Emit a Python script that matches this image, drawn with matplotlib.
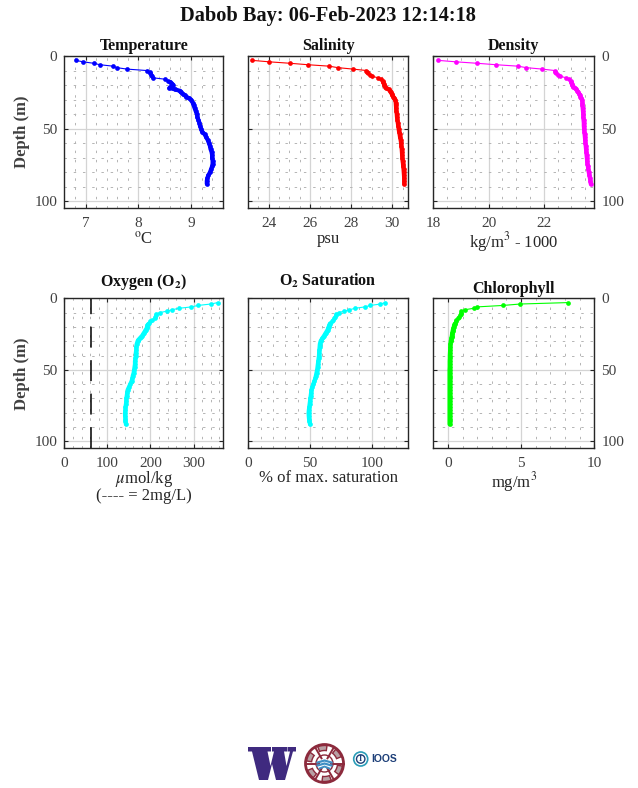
import numpy as np
import matplotlib
matplotlib.use('Agg')
import matplotlib.pyplot as plt
from matplotlib.patches import Circle, Wedge, Polygon

# depth grid of the profile (m)
depth = [3, 4, 5, 6, 7, 8, 9, 10, 11, 12, 13, 14, 15, 16, 17, 18, 19, 20, 21, 22, 23, 24, 25, 26, 27, 28, 29, 30,
         32, 34, 36, 38, 40, 42, 44, 46, 48, 50, 52, 54, 56, 58, 60, 62, 64, 66, 68, 70, 72, 74, 76, 78, 80, 82, 84, 86, 88]

temperature = [6.81, 6.95, 7.15, 7.27, 7.52, 7.59, 7.78, 8.16, 8.22, 8.23, 8.24, 8.25, 8.28, 8.51, 8.56, 8.61, 8.64, 8.65,
               8.62, 8.59, 8.70, 8.79, 8.81, 8.84, 8.88, 8.91, 8.96, 9.00,
               9.03, 9.05, 9.07, 9.09, 9.11, 9.12, 9.14, 9.16, 9.17, 9.19, 9.21, 9.26, 9.29, 9.32, 9.34, 9.36, 9.37, 9.39,
               9.40, 9.40, 9.41, 9.41, 9.40, 9.38, 9.36, 9.33, 9.31, 9.30, 9.30]
salinity = [23.19, 24.02, 25.03, 25.90, 26.94, 27.35, 28.09, 28.75, 28.76, 28.82, 28.92, 29.03, 29.32, 29.47, 29.53, 29.55,
            29.59, 29.62, 29.65, 29.72, 29.82, 29.89, 29.93, 29.97, 30.01, 30.05, 30.10, 30.15,
            30.17, 30.18, 30.19, 30.20, 30.22, 30.23, 30.25, 30.27, 30.29, 30.31, 30.33, 30.36, 30.38, 30.41, 30.43, 30.44,
            30.46, 30.47, 30.48, 30.49, 30.50, 30.52, 30.53, 30.55, 30.56, 30.57, 30.58, 30.58, 30.58]
density = [18.17, 18.81, 19.58, 20.27, 21.07, 21.36, 21.94, 22.40, 22.41, 22.46, 22.52, 22.60, 22.82, 22.92, 22.97, 22.99,
           23.01, 23.03, 23.07, 23.13, 23.18, 23.21, 23.25, 23.28, 23.31, 23.33, 23.36, 23.38,
           23.40, 23.40, 23.41, 23.42, 23.43, 23.43, 23.44, 23.45, 23.45, 23.46, 23.47, 23.48, 23.49, 23.50, 23.51, 23.52,
           23.53, 23.54, 23.55, 23.56, 23.57, 23.58, 23.60, 23.61, 23.63, 23.65, 23.67, 23.69, 23.70]
oxygen = [356, 340, 310, 295, 266, 250, 238, 221, 213, 212, 211, 210, 204, 199, 197, 195, 193, 192, 191, 189, 187, 185, 183,
          181, 178, 175, 172, 170,
          168, 167, 167, 166, 166, 165, 164, 164, 163, 162, 161, 159, 158, 156, 153, 150, 147, 146, 145, 144, 144, 143,
          142, 142, 141, 141, 142, 142, 143]
saturation = [111, 107, 99, 94.5, 86.5, 82, 77.5, 73.2, 71.2, 70.8, 70.3, 69.8, 68.5, 67.5, 66.6, 66, 65.6, 65.1, 64.7, 64.3,
              63.6, 62.9, 62.2, 61.5, 60.8, 60, 59.3, 58.6,
              58, 57.8, 57.6, 57.4, 57.3, 57, 56.7, 56.4, 56.1, 55.8, 55.3, 54.8, 54.3, 53.5, 52.7, 51.8, 51.2, 50.9, 50.6,
              50.3, 50, 49.7, 49.4, 49.1, 48.9, 49, 49.2, 49.6, 50]
chlorophyll = [8.19, 4.93, 3.75, 2.0, 1.75, 1.15, 0.92, 0.90, 0.86, 0.80, 0.75, 0.66, 0.58, 0.53, 0.49, 0.45, 0.42, 0.40, 0.37,
               0.34, 0.32, 0.30, 0.28, 0.27, 0.25, 0.23, 0.21, 0.19,
               0.17, 0.16, 0.15, 0.14, 0.13, 0.13, 0.12, 0.12, 0.12, 0.11, 0.11, 0.11, 0.11, 0.11, 0.11, 0.11, 0.11, 0.11,
               0.11, 0.11, 0.11, 0.11, 0.11, 0.11, 0.11, 0.11, 0.11, 0.11, 0.11]

o2_limit = 61  # 2 mg/L in umol/kg

W, H = 638, 788
plt.rcParams['font.family'] = ['Liberation Serif', 'DejaVu Serif']
plt.rcParams['mathtext.fontset'] = 'stix'
TXT = '#404040'
THICK_FROM = 15  # below this index the samples are close enough to merge into a thick line


def make_panel(box, x, color, title, xlabel, xlim, xticks, xminor, side, title_pad=4, label_pad=0.5):
    # box is left, top, right, bottom in pixels
    l, t, r, b = box
    ax = fig.add_axes([l / W, 1 - b / H, (r - l) / W, (b - t) / H])
    ax.plot(x, depth, '-', color=color, lw=0.8, marker='o', ms=3.4, mew=0, zorder=3)
    ax.plot(x[THICK_FROM:], depth[THICK_FROM:], '-', color=color, lw=3.0, solid_capstyle='round', zorder=3)
    ax.set_xlim(xlim)
    ax.set_ylim(104.8, 0)
    ax.set_xticks(xticks)
    ax.set_xticks(xminor, minor=True)
    ax.set_yticks([0, 50, 100])
    ax.set_yticks(np.arange(10, 100, 10), minor=True)
    ax.grid(True, which='major', color='#d4d4d4', lw=0.9)
    ax.grid(True, which='minor', color='#b4b4b4', lw=0.7, ls=(0, (2.5, 7)))
    ax.set_axisbelow(True)
    ax.tick_params(which='major', direction='in', length=3, width=0.8, top=True, right=True,
                   labelsize=11, labelcolor=TXT, color='#262626')
    ax.tick_params(axis='x', which='major', pad=6.5)
    ax.tick_params(axis='y', which='major', pad=5)
    ax.tick_params(which='minor', length=0)
    for s in ax.spines.values():
        s.set_linewidth(1.0)
        s.set_color('#262626')
    ax.set_title(title, fontsize=11.5, fontweight='bold', pad=title_pad, color='#111111')
    ax.set_xlabel(xlabel, fontsize=12, color='#262626', labelpad=label_pad, linespacing=0.95)
    if side == 'left':
        ax.set_ylabel('Depth (m)', fontsize=12, fontweight='bold', color='#404040', labelpad=3)
    elif side == 'right':
        ax.yaxis.tick_right()
        ax.tick_params(which='major', left=True, right=True, labelleft=False, labelright=True)
    else:
        ax.tick_params(labelleft=False)
    return ax


fig = plt.figure(figsize=(W / 100, H / 100), dpi=100)
fig.text(328 / W, 1 - 16.5 / H, 'Dabob Bay: 06-Feb-2023 12:14:18', ha='center', va='center',
         fontsize=14.7, fontweight='bold', color='#111111')

make_panel((64.3, 56, 223.3, 208.3), temperature, '#0000ff', 'Temperature', r'$^{\rm o}$C',
           (6.594, 9.613), [7, 8, 9], np.arange(6.8, 9.61, 0.2), 'left')
make_panel((248.3, 56, 408.3, 208.3), salinity, '#ff0000', 'Salinity', 'psu',
           (23.01, 30.78), [24, 26, 28, 30], np.arange(23.5, 30.7, 0.5), 'none')
make_panel((433.3, 56, 594.3, 208.3), density, '#ff00ff', 'Density', r'kg/m$^{3}$ - 1000',
           (18, 23.83), [18, 20, 22], np.arange(18.5, 23.8, 0.5), 'right', label_pad=-0.5)
ax_o = make_panel((64.3, 298.3, 223.3, 448.3), oxygen, '#00ffff', r'Oxygen (O$_{\mathbf{2}}$)',
                  '$\\mu$mol/kg\n(---- = 2mg/L)',
                  (0, 369), [0, 100, 200, 300], np.arange(20, 369, 20), 'left', title_pad=9, label_pad=-1)
ax_o.axvline(o2_limit, color='black', lw=1.1, ls=(0, (13.7, 8.2)), zorder=2)
make_panel((248.3, 298.3, 408.3, 448.3), saturation, '#00ffff', r'O$_{\mathbf{2}}$ Saturation', '% of max. saturation',
           (0, 129.7), [0, 50, 100], np.arange(10, 129, 10), 'none', title_pad=9, label_pad=-0.5)
make_panel((433.3, 298.3, 594.3, 448.3), chlorophyll, '#00ff00', 'Chlorophyll', r'mg/m$^{3}$',
           (-1, 10), [0, 5, 10], np.arange(-1, 10, 1), 'right', label_pad=-0.5)

# logos at the bottom, drawn on a pixel overlay
logo = fig.add_axes([0, 0, 1, 1])
logo.set_xlim(0, W)
logo.set_ylim(H, 0)
logo.axis('off')
logo.patch.set_alpha(0)

logo.add_patch(Polygon([(248, 747), (271, 747), (271, 751.5), (267.5, 751.5), (270.5, 766), (274, 751.5), (272, 751.5),
                        (272, 747), (287, 747), (287, 751.5), (284, 751.5), (286.5, 766), (290, 751.5), (287.5, 751.5),
                        (287.5, 747), (296, 747), (296, 751.5), (293, 751.5), (285, 780), (276, 780), (272, 764),
                        (268, 780), (259, 780), (252, 751.5), (248, 751.5)],
                       closed=True, fc='#3f2a7f', ec='none'))

cx, cy = 324.5, 763.5
logo.add_patch(Circle((cx, cy), 19, fc='white', ec='#8c2a3c', lw=2))
for a in range(0, 360, 60):
    logo.add_patch(Wedge((cx, cy), 18, a + 8, a + 38, width=5, fc='#b8a0a4', ec='#8c2a3c', lw=1))
    logo.plot([cx + 6 * np.cos(np.radians(a)), cx + 19 * np.cos(np.radians(a))],
              [cy + 6 * np.sin(np.radians(a)), cy + 19 * np.sin(np.radians(a))], color='#8c2a3c', lw=1.4)
logo.add_patch(Circle((cx, cy), 8.5, fc='white', ec='#8c2a3c', lw=1))
logo.plot([cx - 7, cx, cx + 7], [cy - 1, cy - 3, cy - 1], color='#3f8fc4', lw=1.6)
logo.plot([cx - 7, cx, cx + 7], [cy + 2, cy, cy + 2], color='#3f8fc4', lw=1.6)
logo.plot([cx - 5, cx, cx + 5], [cy + 5, cy + 3, cy + 5], color='#3f8fc4', lw=1.4)

logo.add_patch(Circle((360.7, 759), 7, fc='white', ec='#2a9db8', lw=1.2))
logo.add_patch(Circle((360.7, 759), 4.2, fc='white', ec='#1d3f78', lw=1.0))
logo.text(360.7, 759.2, 'I', ha='center', va='center', fontsize=6, fontweight='bold', color='#1d3f78')
logo.text(371, 759, 'IOOS', ha='left', va='center', fontsize=7.5, fontweight='bold', color='#1d3f78',
          family='Liberation Sans')

fig.savefig('out.png', dpi=100)
